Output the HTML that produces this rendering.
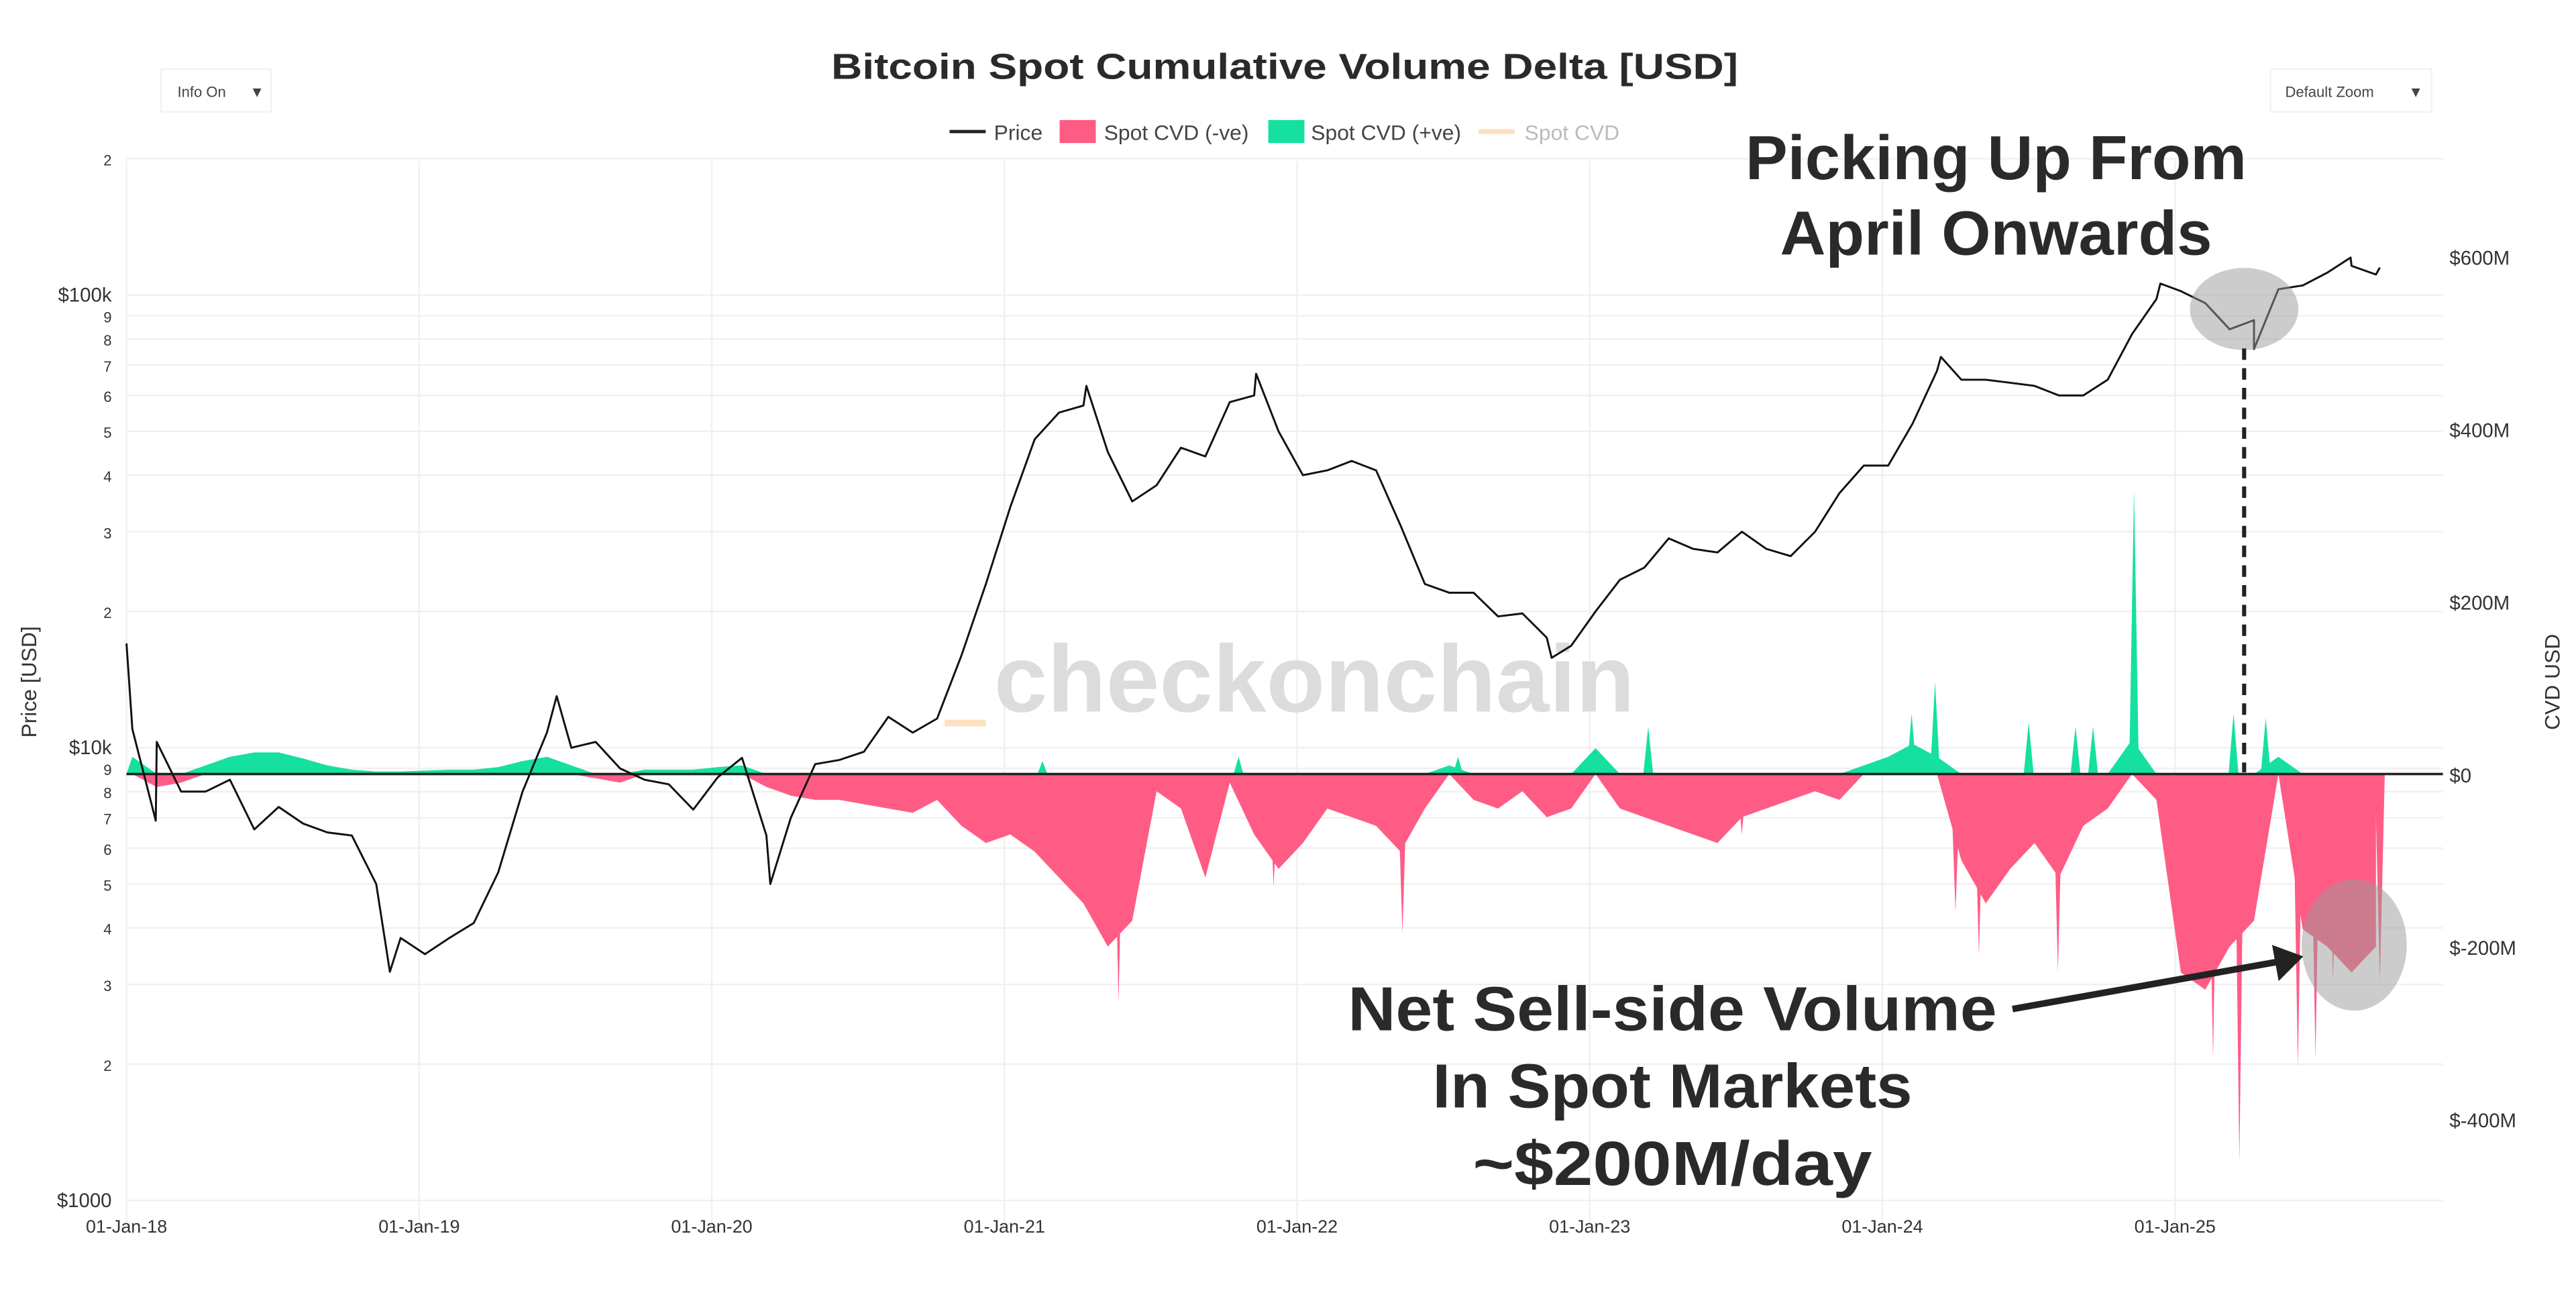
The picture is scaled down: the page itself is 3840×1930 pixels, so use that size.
<!DOCTYPE html>
<html><head><meta charset="utf-8"><style>
html,body{margin:0;padding:0;background:#fff;}
svg{display:block;font-family:"Liberation Sans",sans-serif;}
</style></head><body>
<svg id="chart" width="3840" height="1930" viewBox="0 0 1568 788" xmlns="http://www.w3.org/2000/svg">
<rect width="1568" height="788" fill="#fff"/>
<g id="grid"></g>
<text x="782" y="48" text-anchor="middle" font-size="22" font-weight="bold" fill="#2a2a2a" textLength="552" lengthAdjust="spacingAndGlyphs">Bitcoin Spot Cumulative Volume Delta [USD]</text>
<g><rect x="98" y="42" width="67" height="26" fill="#fff" stroke="#f2f2f2"/><text x="108" y="59" font-size="9" fill="#444">Info On</text><text x="152" y="59" font-size="9" fill="#444">▼</text></g>
<g><rect x="1382" y="42" width="98" height="26" fill="#fff" stroke="#f2f2f2"/><text x="1391" y="59" font-size="9" fill="#444">Default Zoom</text><text x="1466" y="59" font-size="9" fill="#444">▼</text></g>
<g font-size="13">
<g><line x1="578" y1="80" x2="600" y2="80" stroke="#222" stroke-width="2"/><text x="605" y="85" fill="#444">Price</text></g>
<g><rect x="645" y="73" width="22" height="14" fill="#ff5c85"/><text x="672" y="85" fill="#444">Spot CVD (-ve)</text></g>
<g><rect x="772" y="73" width="22" height="14" fill="#15e0a0"/><text x="798" y="85" fill="#444">Spot CVD (+ve)</text></g>
<g><line x1="900" y1="80" x2="922" y2="80" stroke="#fde0bf" stroke-width="3"/><text x="928" y="85" fill="#bbb">Spot CVD</text></g>
</g>
<text x="605" y="433" font-size="58" font-weight="bold" fill="#dcdcdc" textLength="390" lengthAdjust="spacingAndGlyphs">checkonchain</text>
<rect x="575" y="438" width="25" height="4" fill="#fde0bf"/>
<g id="cvd"></g>
<line x1="77" y1="471" x2="1487" y2="471" stroke="#222" stroke-width="1.5"/>
<g id="price"></g>
<text transform="translate(22,415) rotate(-90)" text-anchor="middle" font-size="13" fill="#333">Price [USD]</text>
<text transform="translate(1558,415) rotate(-90)" text-anchor="middle" font-size="13" fill="#333">CVD USD</text>
<ellipse cx="1366" cy="188" rx="33" ry="25" fill="#9a9a9a" fill-opacity="0.5"/>
<line x1="1366" y1="212" x2="1366" y2="470" stroke="#222" stroke-width="2.5" stroke-dasharray="7,5"/>
<ellipse cx="1433" cy="575" rx="32" ry="40" fill="#9a9a9a" fill-opacity="0.5"/>
<line x1="1225" y1="614" x2="1388" y2="585" stroke="#222" stroke-width="4"/>
<polygon points="1402,582 1383,575 1387,597" fill="#222"/>
<g font-weight="bold" fill="#2a2a2a" font-size="38" text-anchor="middle">
<text x="1215" y="109" textLength="305" lengthAdjust="spacingAndGlyphs">Picking Up From</text>
<text x="1215" y="155" textLength="263" lengthAdjust="spacingAndGlyphs">April Onwards</text>
<text x="1018" y="627" textLength="395" lengthAdjust="spacingAndGlyphs">Net Sell-side Volume</text>
<text x="1018" y="674" textLength="292" lengthAdjust="spacingAndGlyphs">In Spot Markets</text>
<text x="1018" y="721" textLength="243" lengthAdjust="spacingAndGlyphs">~$200M/day</text>
</g>
</svg>
<script>
const yearTicks = [2018,2019,2020,2021,2022,2023,2024,2025];
const yearLabels = ["01-Jan-18","01-Jan-19","01-Jan-20","01-Jan-21","01-Jan-22","01-Jan-23","01-Jan-24","01-Jan-25"];
const priceTickValues = [1000,2000,3000,4000,5000,6000,7000,8000,9000,10000,20000,30000,40000,50000,60000,70000,80000,90000,100000,200000];
const priceTickLabels = ["$1000","2","3","4","5","6","7","8","9","$10k","2","3","4","5","6","7","8","9","$100k","2"];
const cvdTickValues = [600,400,200,0,-200,-400];
const cvdTickLabels = ["$600M","$400M","$200M","$0","$-200M","$-400M"];
const priceMonthly = [11000,10300,8000,8000,8500,6600,7400,6800,6500,6400,5000,3800,
3500,3800,4100,5300,8000,10800,10000,10300,9000,8500,8300,7300,
8600,9500,6400,7000,9200,9400,9800,11700,10800,11600,16000,23000,
34000,48000,55000,57000,45000,35000,38000,46000,44000,58000,60000,50000,
40000,41000,43000,41000,31000,23000,22000,22000,19500,19800,17500,16800,
20000,23500,25000,29000,27500,27000,30000,27500,26500,30000,36500,42000,
42000,52000,68000,65000,65000,64000,63000,60000,60000,65000,82000,98000,
102000,96000,84000,88000,103000,105000,112000,116000,111000];
const priceExtremeDates = [2018.0,2018.1,2018.9,2019.47,2020.2,2021.28,2021.86,2022.87,2024.2,2024.95,2025.27,2025.6,2025.7];
const priceExtremeValues = [17000,6900,3200,13000,5000,63000,67000,15800,73000,106000,76000,121000,115000];
const cvdMonthly = [20,-15,-10,10,20,25,25,18,10,5,3,3,
4,5,5,8,15,20,10,-5,-10,5,5,5,
8,10,-15,-25,-30,-30,-35,-40,-45,-30,-60,-80,
-70,-90,-120,-150,-200,-170,-20,-40,-120,-10,-70,-110,
-80,-40,-50,-60,-90,-40,10,-30,-40,-20,-50,-40,
30,-40,-50,-60,-70,-80,-50,-40,-30,-20,-30,10,
20,35,20,-100,-150,-110,-80,-120,-60,-40,40,-30,
-230,-250,-200,-170,20,-180,-200,-230,-200];
const spikeDates = [2021.13,2021.39,2021.31,2021.8,2021.92,2022.36,2022.55,2023.2,2023.52,2024.18,2024.33,2024.6,2024.5,2024.66,2024.72,2024.86,2025.22,2025.13,2025.2,2025.31,2025.42,2025.48,2025.54,2025.7,2024.1,2024.25];
const spikeValues = [15,-265,-140,20,-130,-185,20,55,-70,107,-210,-230,60,55,55,330,-450,-330,70,65,-340,-330,-240,-240,70,-160];

const NS = "http://www.w3.org/2000/svg";
function xS(t){ return 77 + (t-2018)*178.13; }
function yP(p){ return 455 - (Math.log10(p)-4)*275.5; }
function yC(v){ return 471 - v*105/200; }
function mk(tag, attrs, parent){ const e=document.createElementNS(NS,tag); for(const k in attrs) e.setAttribute(k,attrs[k]); parent.appendChild(e); return e; }

const grid = document.getElementById('grid');
yearTicks.forEach((t,i)=>{
  const l = mk('line',{x1:xS(t),x2:xS(t),y1:98,y2:745,stroke:'#f0f0f0','stroke-width':1},grid);
  
  
  const tx = mk('text',{x:xS(t),y:750,'text-anchor':'middle','font-size':11,fill:'#333'},grid);
  tx.textContent = yearLabels[i];
  
  
});
priceTickValues.forEach((v,i)=>{
  const y = yP(v);
  const l = mk('line',{x1:77,x2:1487,y1:y,y2:y,stroke:'#f0f0f0','stroke-width':1},grid);
  
  
  const big = priceTickLabels[i].startsWith('$');
  const tx = mk('text',{x:68,y:y+4,'text-anchor':'end','font-size':big?12:9,fill:'#333'},grid);
  tx.textContent = priceTickLabels[i];
  
  
});
cvdTickValues.forEach((v,i)=>{
  const tx = mk('text',{x:1491,y:yC(v)+5,'font-size':12,fill:'#333'},grid);
  tx.textContent = cvdTickLabels[i];
  
  
});

const cvd = document.getElementById('cvd');
const mDate = i => 2018 + i/12 + 0.02;
let posPts = [[xS(2018),yC(0)]], negPts = [[xS(2018),yC(0)]];
cvdMonthly.forEach((v,i)=>{
  posPts.push([xS(mDate(i)), yC(Math.max(v,0))]);
  negPts.push([xS(mDate(i)), yC(Math.min(v,0))]);
});
const lastX = xS(mDate(cvdMonthly.length-1));
posPts.push([lastX,yC(0)]); negPts.push([lastX,yC(0)]);
const pa = mk('polygon',{points:posPts.map(p=>p.join(',')).join(' '),fill:'#15e0a0'},cvd);


const na = mk('polygon',{points:negPts.map(p=>p.join(',')).join(' '),fill:'#ff5c85'},cvd);


spikeDates.forEach((d,i)=>{
  const v = spikeValues[i], x = xS(d);
  const s = mk('polygon',{points:`${x-3},${yC(0)} ${x},${yC(v)} ${x+3},${yC(0)}`,fill:v>=0?'#15e0a0':'#ff5c85'},cvd);
  
  
});

const pts = priceMonthly.map((p,i)=>[mDate(i),p]);
priceExtremeDates.forEach((d,i)=>pts.push([d,priceExtremeValues[i]]));
pts.sort((a,b)=>a[0]-b[0]);
const pl = mk('polyline',{points:pts.map(p=>xS(p[0])+','+yP(p[1])).join(' '),fill:'none',stroke:'#111','stroke-width':1.2,'stroke-linejoin':'round'},document.getElementById('price'));


</script>
</body></html>
